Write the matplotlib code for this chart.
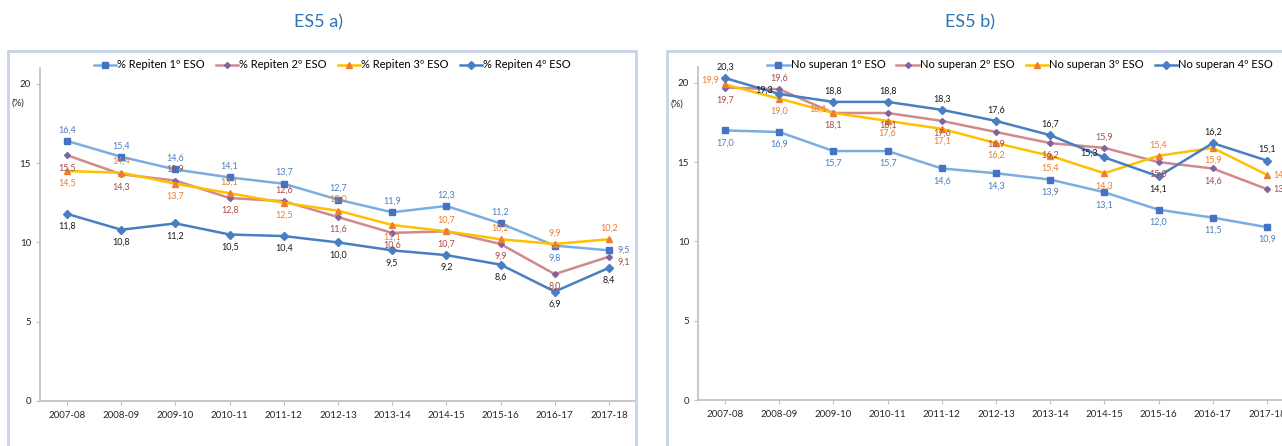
import matplotlib
matplotlib.use("Agg")
import matplotlib.pyplot as plt
from matplotlib.patches import Rectangle

plt.rcParams["font.family"] = ["Lato", "DejaVu Sans"]

# ── data ──────────────────────────────────────────────────────────────────────
years = ["2007-08", "2008-09", "2009-10", "2010-11", "2011-12", "2012-13",
         "2013-14", "2014-15", "2015-16", "2016-17", "2017-18"]

repiten_1 = [16.4, 15.4, 14.6, 14.1, 13.7, 12.7, 11.9, 12.3, 11.2, 9.8, 9.5]
repiten_2 = [15.5, 14.3, 13.9, 12.8, 12.6, 11.6, 10.6, 10.7, 9.9, 8.0, 9.1]
repiten_3 = [14.5, 14.4, 13.7, 13.1, 12.5, 12.0, 11.1, 10.7, 10.2, 9.9, 10.2]
repiten_4 = [11.8, 10.8, 11.2, 10.5, 10.4, 10.0, 9.5, 9.2, 8.6, 6.9, 8.4]

nosup_1 = [17.0, 16.9, 15.7, 15.7, 14.6, 14.3, 13.9, 13.1, 12.0, 11.5, 10.9]
nosup_2 = [19.7, 19.6, 18.1, 18.1, 17.6, 16.9, 16.2, 15.9, 15.0, 14.6, 13.3]
nosup_3 = [19.9, 19.0, 18.1, 17.6, 17.1, 16.2, 15.4, 14.3, 15.4, 15.9, 14.2]
nosup_4 = [20.3, 19.3, 18.8, 18.8, 18.3, 17.6, 16.7, 15.3, 14.1, 16.2, 15.1]

labels_a = ["% Repiten 1º ESO", "% Repiten 2º ESO", "% Repiten 3º ESO", "% Repiten 4º ESO"]
labels_b = ["No superan 1º ESO", "No superan 2º ESO", "No superan 3º ESO", "No superan 4º ESO"]

# ── styles ────────────────────────────────────────────────────────────────────
styles = [
    dict(color="#7aaee0", marker="s", mfc="#4472c4", mec="#4472c4", ms=4, txt="#4f7fbf"),
    dict(color="#d08a8c", marker="D", mfc="#8064a2", mec="#8064a2", ms=3, txt="#a94a4a"),
    dict(color="#ffc000", marker="^", mfc="#ed7d31", mec="#ed7d31", ms=4.5, txt="#ed7d31"),
    dict(color="#4a7ec2", marker="D", mfc="#4a7ec2", mec="#4a7ec2", ms=4.5, txt="#1a1a1a"),
]

# label placement per point: a=above, b=below, l=left, r=right, R=right-low
pos_a = [
    "aaaaaaaaabr",
    "bbababbbbbR",
    "babababaaaa",
    "bbbbbbbbbbb",
]
pos_b = [
    "bbbbbbbbbbb",
    "babbbbbabbr",
    "lblbbbbbabr",
    "alaaaaalbaa",
]

OFF = {"a": (0, 8), "b": (0, -9), "l": (-11, 3), "r": (11, 0), "R": (11, -4)}


def draw_panel(ax, series, names, positions):
    x = range(len(years))
    for vals, name, st, pos in zip(series, names, styles, positions):
        ax.plot(x, vals, color=st["color"], lw=1.8, marker=st["marker"],
                mfc=st["mfc"], mec=st["mec"], ms=st["ms"], label=name, clip_on=False)
        for i, (v, p) in enumerate(zip(vals, pos)):
            dx, dy = OFF[p]
            ax.annotate(f"{v:.1f}".replace(".", ","), (i, v), xytext=(dx, dy),
                        textcoords="offset points", ha="center", va="center",
                        fontsize=6.5, color=st["txt"], annotation_clip=False)
    ax.set_xlim(-0.5, 10.5)
    ax.set_ylim(0, 21)
    ax.set_yticks([0, 5, 10, 15, 20])
    ax.set_xticks(list(x))
    ax.set_xticklabels(years)
    ax.tick_params(labelsize=7, colors="#bfbfbf", labelcolor="#262626", length=3)
    ax.tick_params(axis="x", pad=4)
    for s in ("top", "right"):
        ax.spines[s].set_visible(False)
    for s in ("left", "bottom"):
        ax.spines[s].set_color("#bfbfbf")
        ax.spines[s].set_linewidth(1.2)


fig = plt.figure(figsize=(12.82, 4.46), dpi=100)

ax_a = fig.add_axes([40 / 1282, 1 - 401 / 446, 596 / 1282, 333 / 446])
ax_b = fig.add_axes([698 / 1282, 1 - 400 / 446, 596 / 1282, 333 / 446])

draw_panel(ax_a, [repiten_1, repiten_2, repiten_3, repiten_4], labels_a, pos_a)
draw_panel(ax_b, [nosup_1, nosup_2, nosup_3, nosup_4], labels_b, pos_b)

for ax, cx in ((ax_a, 332 / 1282), (ax_b, 1020 / 1282)):
    ax.legend(ncol=4, loc="center", bbox_to_anchor=(cx, 1 - 65 / 446),
              bbox_transform=fig.transFigure, frameon=False, fontsize=8,
              handlelength=2.0, handletextpad=0.1, columnspacing=1.0)

fig.text(18 / 1282, 1 - 103 / 446, "(%)", fontsize=7, color="#262626", ha="center", va="center")
fig.text(677 / 1282, 1 - 104 / 446, "(%)", fontsize=7, color="#262626", ha="center", va="center")

fig.text(318 / 1282, 1 - 22 / 446, "ES5 a)", fontsize=13, color="#2e75b6", ha="center", va="center")
fig.text(970 / 1282, 1 - 22 / 446, "ES5 b)", fontsize=13, color="#2e75b6", ha="center", va="center")

# panel frames
for x0, x1 in ((8, 636), (667, 1290)):
    fig.patches.append(Rectangle((x0 / 1282, -0.05), (x1 - x0) / 1282, 1.05 - 51 / 446,
                                 transform=fig.transFigure, fill=False,
                                 edgecolor="#c6d3ea", lw=2))

fig.savefig("out.png", dpi=100)
